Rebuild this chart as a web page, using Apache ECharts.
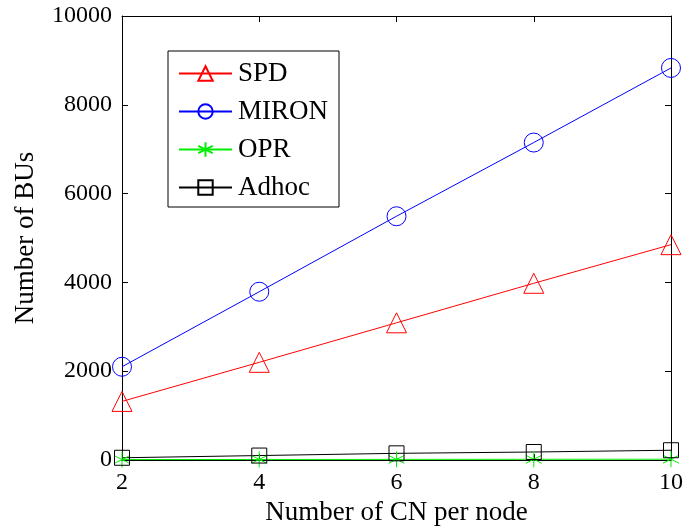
<!DOCTYPE html>
<html><head><meta charset="utf-8">
<script src="https://cdn.jsdelivr.net/npm/echarts@6/dist/echarts.min.js"></script>
<style>html,body{margin:0;padding:0;background:#fff}#c{width:685px;height:527px}</style>
</head><body><div id="c"></div>
<script>
const categories = [2, 4, 6, 8, 10];
const spd = [1320, 2200, 3090, 3980, 4850];
const miron = [2100, 3790, 5490, 7150, 8830];
const opr = [10, 12, 14, 16, 18];
const adhoc = [50, 100, 150, 180, 220];
const xTicks = [2, 4, 6, 8, 10];
const yTicks = [0, 2000, 4000, 6000, 8000, 10000];

const font = 'Liberation Serif';
const star = 'path://M0,-10L0,10M-8.66,-5L8.66,5M-8.66,5L8.66,-5M0,-10';
function mk(name, data, color, symbol, size) {
  return {
    name, type: 'line', data: categories.map((c, i) => [c, data[i]]),
    symbol, symbolSize: size, showAllSymbol: true,
    lineStyle: { color, width: 1 },
    itemStyle: { color: 'transparent', borderColor: color, borderWidth: 1 },
    emphasis: { disabled: true }, animation: false
  };
}
const chart = echarts.init(document.getElementById('c'));
const axisCommon = {
  axisLine: { show: true, onZero: false, lineStyle: { color: '#000', width: 1 } },
  axisTick: { show: true, inside: true, length: 6, lineStyle: { color: '#000' } },
  splitLine: { show: false }
};
chart.setOption({
  animation: false,
  grid: { left: 122, right: 14, top: 16, bottom: 67, containLabel: false, outerBoundsMode: 'none' },
  xAxis: [
    Object.assign({ type: 'value', min: 2, max: 10, interval: 2, position: 'bottom',
      name: 'Number of CN per node', nameLocation: 'middle', nameGap: 33,
      nameTextStyle: { fontFamily: font, fontSize: 27, color: '#000' },
      axisLabel: { fontFamily: font, fontSize: 24, color: '#000', margin: 11,
        formatter: v => xTicks.includes(v) ? String(v) : '' } }, axisCommon),
    Object.assign({ type: 'value', min: 2, max: 10, interval: 2, position: 'top',
      axisLabel: { show: false } }, axisCommon)
  ],
  yAxis: [
    Object.assign({ type: 'value', min: 0, max: 10000, interval: 2000, position: 'left',
      name: 'Number of BUs', nameLocation: 'middle', nameGap: 83,
      nameTextStyle: { fontFamily: font, fontSize: 27, color: '#000' },
      axisLabel: { fontFamily: font, fontSize: 24, color: '#000', margin: 10,
        formatter: v => yTicks.includes(v) ? String(v) : '' } }, axisCommon),
    Object.assign({ type: 'value', min: 0, max: 10000, interval: 2000, position: 'right',
      axisLabel: { show: false } }, axisCommon)
  ],
  legend: {
    orient: 'vertical', left: 168, top: 51,
    backgroundColor: '#fff', borderColor: '#000', borderWidth: 1, borderRadius: 0,
    padding: [9, 11, 6, 10], itemWidth: 53, itemHeight: 18, itemGap: 11,
    textStyle: { fontFamily: font, fontSize: 27, lineHeight: 27, color: '#000', padding: [0, 0, 0, 1] },
    data: ['SPD', 'MIRON', 'OPR', 'Adhoc']
  },
  series: [
    mk('SPD', spd, '#ff0000', 'triangle', 20),
    mk('MIRON', miron, '#0000ff', 'circle', 19),
    mk('OPR', opr, '#00ee00', star, 16),
    mk('Adhoc', adhoc, '#000000', 'rect', 15)
  ]
});
</script></body></html>
